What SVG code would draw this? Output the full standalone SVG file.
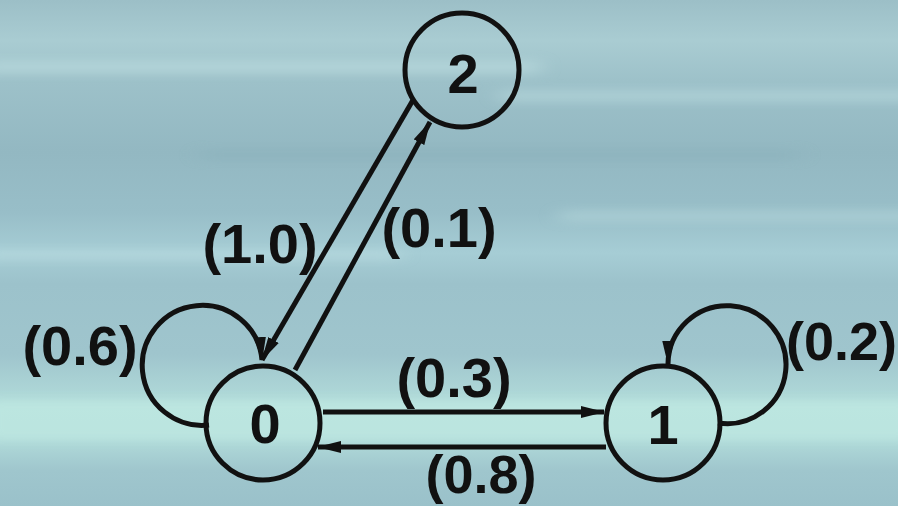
<svg xmlns="http://www.w3.org/2000/svg" width="898" height="506" viewBox="0 0 898 506">
<defs>
<linearGradient id="bg" x1="0" y1="0" x2="0" y2="1">
<stop offset="0" stop-color="#9cbfc7"/>
<stop offset="0.08" stop-color="#a9ccd2"/>
<stop offset="0.16" stop-color="#9dc1c9"/>
<stop offset="0.3" stop-color="#93b8c2"/>
<stop offset="0.42" stop-color="#98bec8"/>
<stop offset="0.5" stop-color="#a6cdd5"/>
<stop offset="0.56" stop-color="#9cc2cb"/>
<stop offset="0.7" stop-color="#9fc5cd"/>
<stop offset="0.8" stop-color="#b2dcda"/>
<stop offset="0.87" stop-color="#b0dad9"/>
<stop offset="0.93" stop-color="#9fc6cd"/>
<stop offset="1" stop-color="#9ac1ca"/>
</linearGradient>
<filter id="blur" x="-20%" y="-200%" width="140%" height="500%"><feGaussianBlur stdDeviation="10 5"/></filter>
<marker id="arr" viewBox="0 0 24 12" refX="23" refY="6" markerWidth="24" markerHeight="12" markerUnits="userSpaceOnUse" orient="auto">
<path d="M0,0 L24,6 L0,12 z" fill="#111"/>
</marker>
<style>
.edge{fill:none;stroke:#111;stroke-width:5;marker-end:url(#arr)}
.node{fill:none;stroke:#111;stroke-width:5}
.t{font-family:"Liberation Sans",Arial,Helvetica,sans-serif;font-weight:bold;font-size:56px;fill:#111}
.m{text-anchor:middle}
</style>
</defs>
<rect width="898" height="506" fill="url(#bg)"/>
<g filter="url(#blur)" opacity="0.5">
<rect x="-20" y="60" width="560" height="14" fill="#c0e0e2"/>
<rect x="500" y="90" width="420" height="12" fill="#bcdde0"/>
<rect x="-20" y="250" width="420" height="10" fill="#bfe0e3"/>
<rect x="560" y="210" width="360" height="12" fill="#b6d8dc"/>
<rect x="-20" y="400" width="940" height="40" fill="#c6f0e6"/>
<rect x="200" y="150" width="600" height="10" fill="#8ab0ba"/>
</g>
<g id="edges">
<path class="edge" d="M323 412 L604 412"/>
<path class="edge" d="M606 447 L318 447"/>
<path class="edge" d="M413 100 L262 360"/>
<path class="edge" d="M295 370 L430 122"/>
<path class="edge" d="M209 425 A60 60 0 1 1 262 360"/>
<path class="edge" d="M718 423 A59 59 0 1 0 668 364"/>
</g>
<g id="labels">
<text class="t m" x="80" y="365">(0.6)</text>
<text class="t m" x="260" y="263">(1.0)</text>
<text class="t m" x="439" y="247">(0.1)</text>
<text class="t m" x="454" y="397">(0.3)</text>
<text class="t m" x="481" y="493" style="font-size:54px">(0.8)</text>
<text class="t" x="786" y="360" style="font-size:54px">(0.2)</text>
</g>
<g id="node2"><circle class="node" cx="462" cy="70" r="57"/><text class="t m" x="463" y="93">2</text></g>
<g id="node0"><circle class="node" cx="263" cy="423" r="57"/><text class="t m" x="265" y="443">0</text></g>
<g id="node1"><circle class="node" cx="663" cy="423" r="57"/><text class="t m" x="663" y="444">1</text></g>
</svg>
